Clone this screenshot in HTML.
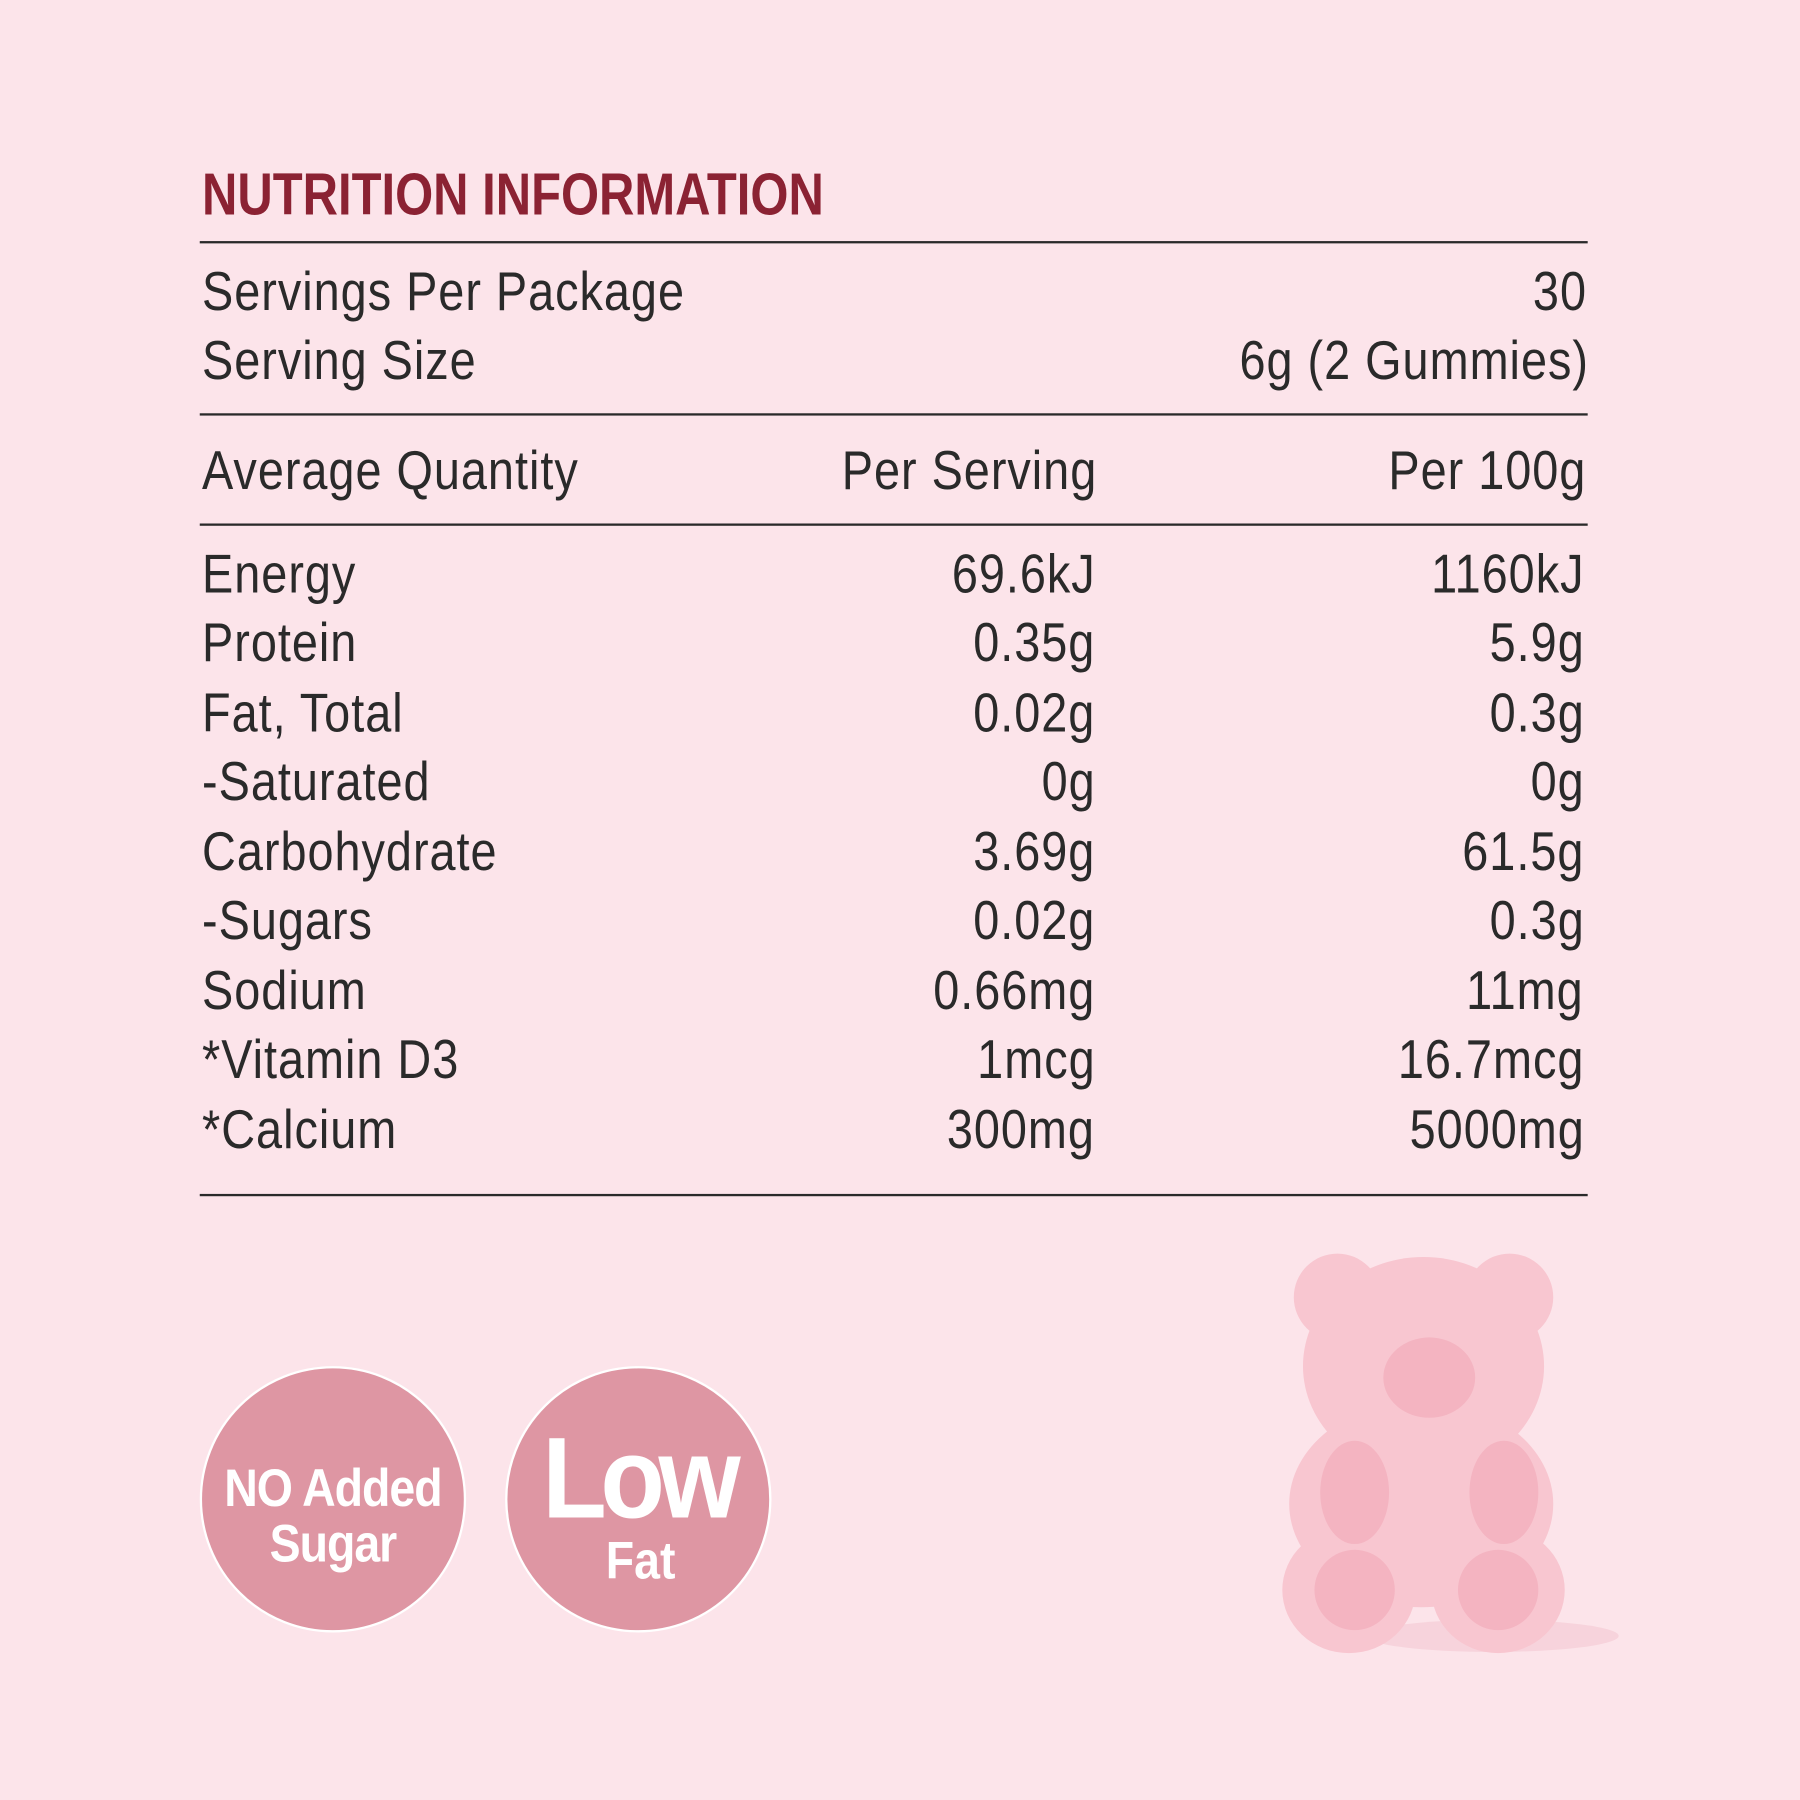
<!DOCTYPE html>
<html><head><style>
html,body{margin:0;padding:0}
body{width:1800px;height:1800px;background:#fce4ea;overflow:hidden;position:relative}
#c{position:absolute;left:0;top:0;width:1568px;height:1568px;transform:scale(1.148);transform-origin:0 0}
.t{position:absolute;font-family:"Liberation Sans Narrow","Liberation Sans",sans-serif;font-size:48px;line-height:48px;color:#2a2a2a;white-space:nowrap;letter-spacing:1px;transform:scaleX(0.85);transform-origin:0 0;margin-top:-3px}
.r{text-align:right;transform-origin:100% 0}
.ln{position:absolute;left:174px;width:1209px;height:2px;background:#2a2a2a}
.title{position:absolute;left:176px;top:144px;font-family:"Liberation Sans Narrow","Liberation Sans",sans-serif;font-weight:bold;font-size:52px;line-height:52px;color:#8b2233;white-space:nowrap;transform:scaleX(0.82);transform-origin:0 0}
.circ{position:absolute;width:232px;height:232px;border-radius:50%;background:#de96a3;border:2px solid #fff;box-sizing:border-box;color:#fff;font-family:"Liberation Sans Narrow","Liberation Sans",sans-serif;font-weight:bold;text-align:center}
</style></head><body><div id="c">
<div class="title">NUTRITION INFORMATION</div>
<div class="ln" style="top:210px"></div>
<div class="t" style="left:176px;top:234px">Servings Per Package</div>
<div class="t r" style="right:186px;top:234px">30</div>
<div class="t" style="left:176px;top:294px">Serving Size</div>
<div class="t r" style="right:184px;top:294px">6g (2 Gummies)</div>
<div class="ln" style="top:360px"></div>
<div class="t" style="left:176px;top:390px">Average Quantity</div>
<div class="t r" style="right:612px;top:390px">Per Serving</div>
<div class="t r" style="right:186px;top:390px">Per 100g</div>
<div class="ln" style="top:456px"></div>

<div class="t" style="left:176px;top:480px">Energy</div><div class="t r" style="right:614px;top:480px">69.6kJ</div><div class="t r" style="right:188px;top:480px">1160kJ</div>
<div class="t" style="left:176px;top:540px">Protein</div><div class="t r" style="right:614px;top:540px">0.35g</div><div class="t r" style="right:188px;top:540px">5.9g</div>
<div class="t" style="left:176px;top:601px">Fat, Total</div><div class="t r" style="right:614px;top:601px">0.02g</div><div class="t r" style="right:188px;top:601px">0.3g</div>
<div class="t" style="left:176px;top:661px">-Saturated</div><div class="t r" style="right:614px;top:661px">0g</div><div class="t r" style="right:188px;top:661px">0g</div>
<div class="t" style="left:176px;top:722px">Carbohydrate</div><div class="t r" style="right:614px;top:722px">3.69g</div><div class="t r" style="right:188px;top:722px">61.5g</div>
<div class="t" style="left:176px;top:782px">-Sugars</div><div class="t r" style="right:614px;top:782px">0.02g</div><div class="t r" style="right:188px;top:782px">0.3g</div>
<div class="t" style="left:176px;top:843px">Sodium</div><div class="t r" style="right:614px;top:843px">0.66mg</div><div class="t r" style="right:188px;top:843px">11mg</div>
<div class="t" style="left:176px;top:903px">*Vitamin D3</div><div class="t r" style="right:614px;top:903px">1mcg</div><div class="t r" style="right:188px;top:903px">16.7mcg</div>
<div class="t" style="left:176px;top:964px">*Calcium</div><div class="t r" style="right:614px;top:964px">300mg</div><div class="t r" style="right:188px;top:964px">5000mg</div>
<div class="ln" style="top:1040px"></div>

<div class="circ" style="left:174px;top:1190px"><div style="margin-top:80px;font-size:46px;line-height:48px;letter-spacing:-1px;transform:scaleX(0.88)">NO Added<br>Sugar</div></div>
<div class="circ" style="left:440px;top:1190px"><div style="margin-top:48px;font-size:100px;line-height:96px;letter-spacing:-6px;transform:scaleX(0.92)">Low</div><div style="font-size:46px;line-height:46px;margin-left:4px;transform:scaleX(0.88)">Fat</div></div>

<svg style="position:absolute;left:1090px;top:1080px" width="360" height="380" viewBox="1090 1080 360 380">
<ellipse cx="1300" cy="1425" rx="110" ry="14" fill="#f4c8d2" opacity="0.6"/>
<g fill="#f8c6d0">
<circle cx="1165" cy="1130" r="38"/><circle cx="1315" cy="1130" r="38"/>
<ellipse cx="1240" cy="1190" rx="105" ry="95"/>
<ellipse cx="1238" cy="1310" rx="115" ry="90"/>
<ellipse cx="1175" cy="1385" rx="58" ry="55"/><ellipse cx="1305" cy="1385" rx="58" ry="55"/>
</g>
<g fill="#f2a9b8" opacity="0.6">
<ellipse cx="1245" cy="1200" rx="40" ry="35"/>
<ellipse cx="1180" cy="1300" rx="30" ry="45"/><ellipse cx="1310" cy="1300" rx="30" ry="45"/>
<ellipse cx="1180" cy="1385" rx="35" ry="35"/><ellipse cx="1305" cy="1385" rx="35" ry="35"/>
</g>
</svg>
</div></body></html>
